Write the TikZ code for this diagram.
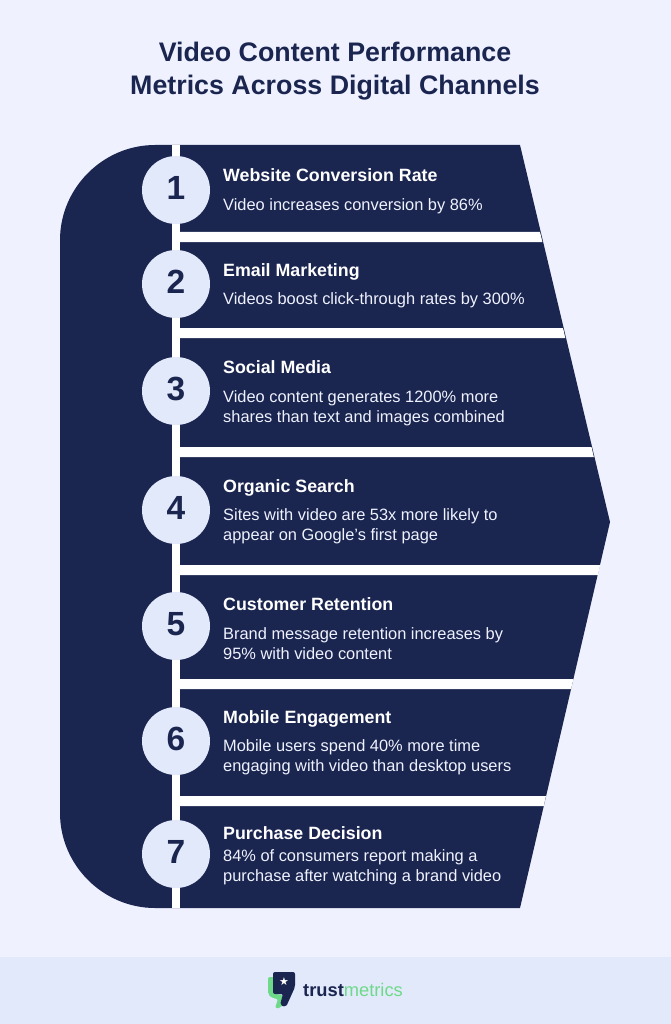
\documentclass[tikz,border=0pt]{standalone}
\usepackage{xcolor}
\usepackage{fontspec}
\setmainfont{Liberation Sans}
\usetikzlibrary{positioning}
\definecolor{navy}{HTML}{1A2550}
\definecolor{pagebg}{HTML}{EFF2FE}
\definecolor{footerbg}{HTML}{E2E9FB}
\definecolor{logogreen}{HTML}{6FD98A}
\tikzset{
    badge/.style={circle, fill=footerbg, text=navy, inner sep=0pt, minimum size=68pt, text depth=4pt, font=\fontsize{33.5}{35}\selectfont\bfseries},
    heading/.style={anchor=west, inner sep=0pt, text=white, text height=13pt, text depth=4pt, font=\fontsize{17.8}{20}\selectfont\bfseries},
    detail/.style={anchor=west, inner sep=0pt, align=left, text=pagebg, font=\fontsize{16.4}{20}\selectfont},
    band/.style={fill=white, draw=none}
}
\begin{document}
\begin{tikzpicture}[x=1pt, y=-1pt]
    \useasboundingbox (0,0) rectangle (671,1024);
    \fill[pagebg] (0,0) rectangle (671,1024);
    \fill[footerbg] (0,957) rectangle (671,1024);
    \node[inner sep=0pt, align=center, text=navy, font=\fontsize{26.8}{33}\selectfont\bfseries] (title) at (335,71.5) {Video Content Performance\\Metrics Across Digital Channels};
    % big arrow shape
    \fill[navy] (155,145) -- (520,145) -- (610,522) -- (520,908) -- (155,908)
        .. controls (103,908) and (60,865) .. (60,813) -- (60,240)
        .. controls (60,188) and (103,145) .. (155,145) -- cycle;
    % white bars
    \fill[band] (172,145) rectangle (180,908);
    \fill[band] (172,232) -- (540,232) -- (542.4,242) -- (172,242) -- cycle;
    \fill[band] (172,328) -- (563,328) -- (565.3,338) -- (172,338) -- cycle;
    \fill[band] (172,447) -- (591.5,447) -- (593.8,457) -- (172,457) -- cycle;
    \fill[band] (172,565) -- (600.2,565) -- (597.9,575) -- (172,575) -- cycle;
    \fill[band] (172,679) -- (573.4,679) -- (571.1,689) -- (172,689) -- cycle;
    \fill[band] (172,796) -- (546,796) -- (543.7,806) -- (172,806) -- cycle;
    % steps
    \node[badge] (one) at (176,190) {1};
    \node[badge] (two) at (176,284) {2};
    \node[badge] (three) at (176,391) {3};
    \node[badge] (four) at (176,510) {4};
    \node[badge] (five) at (176,626) {5};
    \node[badge] (six) at (176,741) {6};
    \node[badge] (seven) at (176,854) {7};
    \node[heading] (webhead) at (223,177) {Website Conversion Rate};
    \node[detail] (webtext) at (223,206) {Video increases conversion by 86\%};
    \node[heading] (mailhead) at (223,272) {Email Marketing};
    \node[detail] (mailtext) at (223,300) {Videos boost click-through rates by 300\%};
    \node[heading] (sochead) at (223,369) {Social Media};
    \node[detail] (soctext) at (223,408) {Video content generates 1200\% more\\shares than text and images combined};
    \node[heading] (orghead) at (223,488) {Organic Search};
    \node[detail] (orgtext) at (223,526) {Sites with video are 53x more likely to\\appear on Google's first page};
    \node[heading] (custhead) at (223,606) {Customer Retention};
    \node[detail] (custtext) at (223,644) {Brand message retention increases by\\95\% with video content};
    \node[heading] (mobhead) at (223,719) {Mobile Engagement};
    \node[detail] (mobtext) at (223,757) {Mobile users spend 40\% more time\\engaging with video than desktop users};
    \node[heading] (buyhead) at (223,835) {Purchase Decision};
    \node[detail] (buytext) at (223,867) {84\% of consumers report making a\\purchase after watching a brand video};
    % logo
    \fill[logogreen, rounded corners=2pt] (268,977) -- (276,977) -- (276,994) -- (283,995) -- (284,1000) -- (281,1008) -- (275,1008) -- (278,999) -- (272,998) -- (268,994) -- cycle;
    \fill[navy, rounded corners=2pt] (273,972) -- (295,972) -- (295,987) -- (286,1007) -- (280,1005) -- (283,994) -- (273,994) -- cycle;
    \node[inner sep=0pt, text=white, font=\fontsize{11}{11}\selectfont] (star) at (284,982) {\fontspec{DejaVu Sans}★};
    \node[anchor=west, inner sep=0pt, font=\fontsize{18.3}{18}\selectfont] (brand) at (303,990) {\textcolor{navy}{\bfseries trust}\textcolor{logogreen}{metrics}};
\end{tikzpicture}
\end{document}
